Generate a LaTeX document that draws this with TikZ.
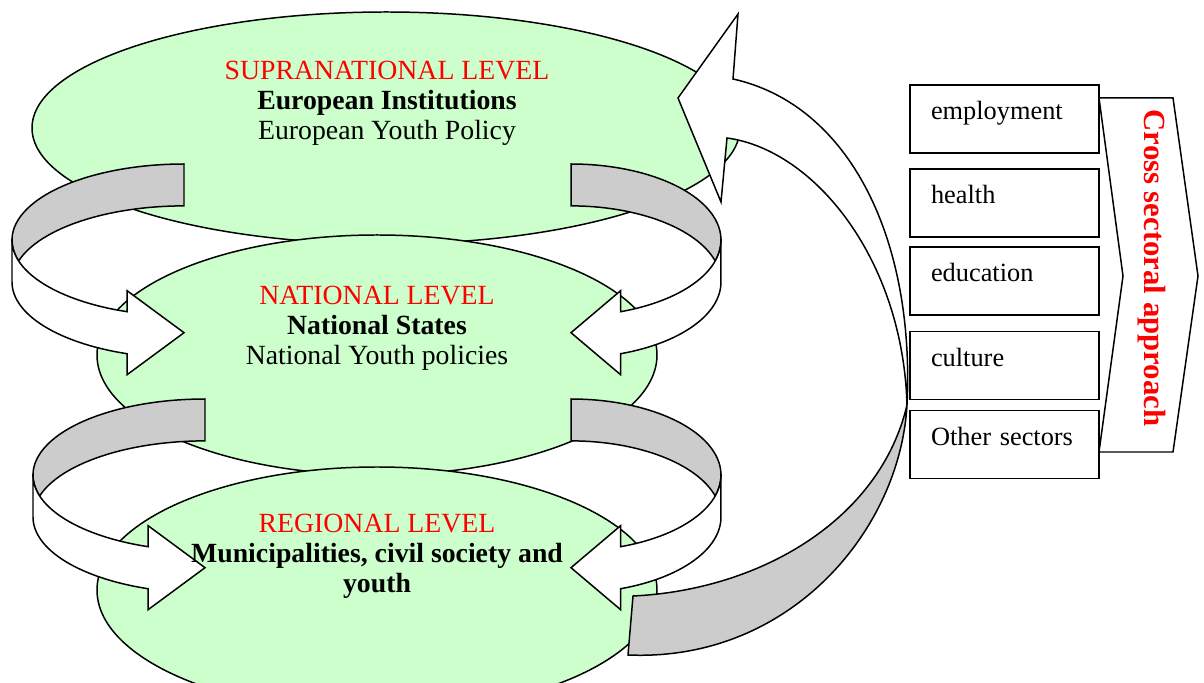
\documentclass[tikz,border=0pt]{standalone}
\usepackage{fontspec}
\setmainfont{Liberation Serif}
\usepackage{tikz}
\usepackage{xcolor}

\definecolor{levelgreen}{HTML}{CCFFCC}
\definecolor{ribbongray}{HTML}{CCCCCC}

% half-turn ribbon arrow, centred on its loop
\newcommand{\turnarrow}{%
  \filldraw[fill=ribbongray] (0,76) arc[start angle=90,end angle=196,x radius=172,y radius=76]
    arc[start angle=164,end angle=90,x radius=172,y radius=76] -- cycle;
  \filldraw[fill=white] (-172,0) -- (-172,-42)
    arc[start angle=180,end angle=250.7,x radius=172,y radius=76]
    -- (-56.9,-134.7) -- (0,-92.7) -- (-56.9,-50.7) -- (-56.9,-71.7)
    arc[start angle=250.7,end angle=180,x radius=172,y radius=76] -- cycle;}

\begin{document}
\begin{tikzpicture}[x=0.02cm,y=0.02cm,line width=0.85pt,
  leveltext/.style={align=center,font=\fontsize{15.8}{17}\selectfont},
  sector/.style={draw,text width=2.94cm,align=left,inner xsep=0.42cm,minimum height=1.36cm,
    text height=8pt,text depth=7pt,font=\fontsize{15}{17}\selectfont}]
\useasboundingbox (0,0) rectangle (1204,683);
\clip (0,0) rectangle (1204,683);

% the three levels
\filldraw[fill=levelgreen] (386,555) ellipse [x radius=354,y radius=116];
\filldraw[fill=levelgreen] (377,328) ellipse [x radius=280,y radius=120];
\filldraw[fill=levelgreen] (377,93) ellipse [x radius=280,y radius=123];

% arrows between the levels
\begin{scope}[shift={(184,443)}] \turnarrow \end{scope}
\begin{scope}[shift={(205,208)}] \turnarrow \end{scope}
\begin{scope}[shift={(571,443)},xscale=-0.872] \turnarrow \end{scope}
\begin{scope}[shift={(571,208)},xscale=-0.872] \turnarrow \end{scope}

% big return arrow
\filldraw[fill=ribbongray] (907,278) .. controls (880,163) and (760,93) .. (633,87)
  -- (628,28) .. controls (790,21) and (900,153) .. (907,278) -- cycle;
\filldraw[fill=white] (907,278) .. controls (915,443) and (850,578) .. (733,604)
  -- (738,669) -- (678,585) -- (721,481) -- (727,545)
  .. controls (815,533) and (903,423) .. (907,278) -- cycle;

% sectors
\node[sector] (employment) at (1004.5,564) {employment};
\node[sector] (health) at (1004.5,480) {health};
\node[sector] (education) at (1004.5,402) {education};
\node[sector] (culture) at (1004.5,317.5) {culture};
\node[sector] (other) at (1004.5,238.5) {Other sectors};

\filldraw[fill=white] (1099,585) -- (1173,585) -- (1198,407) -- (1173,231) -- (1099,231) -- (1123,407) -- cycle;
\node[rotate=-90,text=red,font=\bfseries\fontsize{17.5}{20}\selectfont] (approach) at (1152,415) {Cross sectoral approach};

% level labels
\node[leveltext] (supra) at (387,580) {\textcolor{red}{SUPRANATIONAL LEVEL}\\ \textbf{European Institutions}\\ European Youth Policy};
\node[leveltext] (national) at (377,355) {\textcolor{red}{NATIONAL LEVEL}\\ \textbf{National States}\\ National Youth policies};
\node[leveltext] (regional) at (377,127) {\textcolor{red}{REGIONAL LEVEL}\\ \textbf{Municipalities, civil society and}\\ \textbf{youth}};
\end{tikzpicture}
\end{document}
